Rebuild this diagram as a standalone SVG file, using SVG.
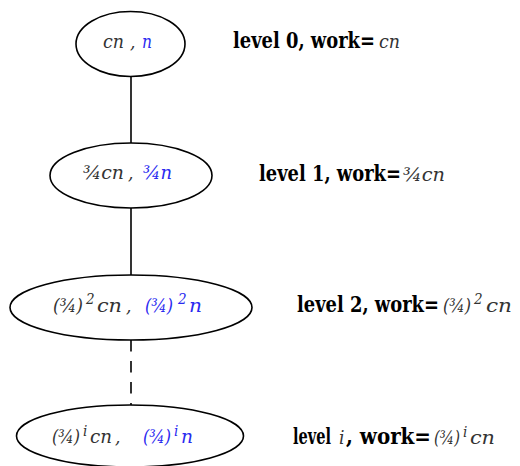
<svg xmlns="http://www.w3.org/2000/svg" width="520" height="466" viewBox="0 0 520 466">
<style>
.n{fill:#fff;stroke:#000;stroke-width:1.6}
.e{stroke:#000;stroke-width:1.6;fill:none}
.d{stroke-dasharray:11.5 9.5}
.m{font-style:italic;font-size:19px;fill:#333}
.b{fill:#2a2af0}
.s{font-size:15px}
.l{font-weight:bold;font-size:22px;fill:#000}
</style>
<rect width="520" height="466" fill="#fff"/>
<g id="connectors">
<line class="e" x1="131" y1="76.5" x2="131" y2="143"/>
<line class="e" x1="131" y1="208" x2="131" y2="275"/>
<line class="e d" x1="131" y1="340" x2="131" y2="405"/>
</g>
<g font-family="DejaVu Serif Condensed, DejaVu Serif, serif">
<g id="node0">
<ellipse class="n" cx="130.5" cy="44" rx="54.5" ry="32.5"/>
<text class="m" y="48"><tspan x="103" textLength="21" lengthAdjust="spacingAndGlyphs">cn</tspan><tspan x="130">,</tspan><tspan class="b" x="142" textLength="10" lengthAdjust="spacingAndGlyphs">n</tspan></text>
</g>
<g id="node1">
<ellipse class="n" cx="131" cy="175.5" rx="81" ry="32.5"/>
<text class="m" y="179"><tspan x="83" textLength="41" lengthAdjust="spacingAndGlyphs">¾cn</tspan><tspan x="128">,</tspan><tspan class="b" x="143" textLength="29" lengthAdjust="spacingAndGlyphs">¾n</tspan></text>
</g>
<g id="node2">
<ellipse class="n" cx="131" cy="307.5" rx="121" ry="32.5"/>
<text class="m" y="312"><tspan x="53" textLength="30" lengthAdjust="spacingAndGlyphs">(¾)</tspan><tspan class="s" x="86" y="304">2</tspan><tspan x="97" y="312" textLength="25" lengthAdjust="spacingAndGlyphs">cn</tspan><tspan x="126">,</tspan><tspan class="b" x="145" textLength="28" lengthAdjust="spacingAndGlyphs">(¾)</tspan><tspan class="b s" x="178" y="304">2</tspan><tspan class="b" x="189" y="312" textLength="13" lengthAdjust="spacingAndGlyphs">n</tspan></text>
</g>
<g id="node3">
<ellipse class="n" cx="130" cy="436" rx="113.5" ry="31"/>
<text class="m" y="443"><tspan x="52" textLength="28" lengthAdjust="spacingAndGlyphs">(¾)</tspan><tspan class="s" x="83" y="436">i</tspan><tspan x="90" y="443" textLength="22" lengthAdjust="spacingAndGlyphs">cn</tspan><tspan x="115">,</tspan><tspan class="b" x="143" textLength="28" lengthAdjust="spacingAndGlyphs">(¾)</tspan><tspan class="b s" x="174" y="436">i</tspan><tspan class="b" x="181" y="443" textLength="12" lengthAdjust="spacingAndGlyphs">n</tspan></text>
</g>
<g id="label0">
<text y="48"><tspan class="l" x="233" textLength="142" lengthAdjust="spacingAndGlyphs">level 0, work=</tspan><tspan class="m" x="379" textLength="21" lengthAdjust="spacingAndGlyphs">cn</tspan></text>
</g>
<g id="label1">
<text y="181"><tspan class="l" x="259" textLength="142" lengthAdjust="spacingAndGlyphs">level 1, work=</tspan><tspan class="m" x="403" textLength="42" lengthAdjust="spacingAndGlyphs">¾cn</tspan></text>
</g>
<g id="label2">
<text y="312"><tspan class="l" x="297" textLength="142" lengthAdjust="spacingAndGlyphs">level 2, work=</tspan><tspan class="m" x="443" textLength="28" lengthAdjust="spacingAndGlyphs">(¾)</tspan><tspan class="m s" x="474" y="304">2</tspan><tspan class="m" x="486" y="312" textLength="26" lengthAdjust="spacingAndGlyphs">cn</tspan></text>
</g>
<g id="label3">
<text y="444"><tspan class="l" x="293" textLength="38" lengthAdjust="spacingAndGlyphs">level</tspan><tspan class="m" x="339">i</tspan><tspan class="l" x="346" textLength="85" lengthAdjust="spacingAndGlyphs">, work=</tspan><tspan class="m" x="434" textLength="26" lengthAdjust="spacingAndGlyphs">(¾)</tspan><tspan class="m s" x="463" y="437">i</tspan><tspan class="m" x="470" y="444" textLength="25" lengthAdjust="spacingAndGlyphs">cn</tspan></text>
</g>
</g>
</svg>
